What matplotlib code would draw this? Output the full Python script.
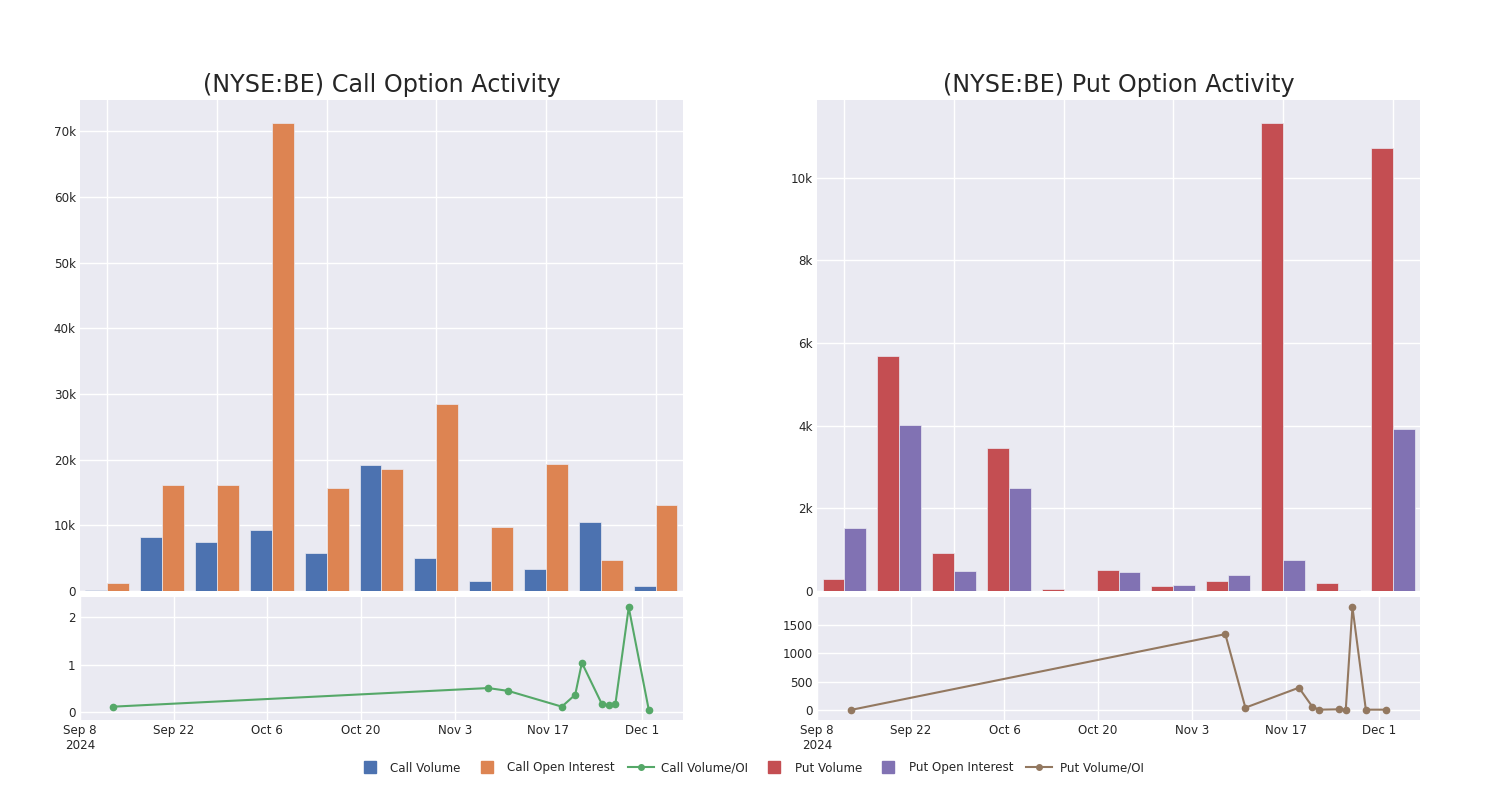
import pandas as pd
import matplotlib.pyplot as plt
from matplotlib.lines import Line2D
from matplotlib.ticker import FuncFormatter

plt.rcParams['font.family'] = 'DejaVu Sans'
plt.rcParams['font.size'] = 8.6
plt.rcParams['text.color'] = '#262626'
plt.rcParams['xtick.color'] = '#262626'
plt.rcParams['ytick.color'] = '#262626'

BG = '#EAEAF2'
BLUE, ORANGE, GREEN = '#4C72B0', '#DD8452', '#55A868'
RED, PURPLE, BROWN = '#C44E52', '#8172B3', '#937860'

# bar groups (one per date, same order as the ratio series)
call_volume = [140, 8250, 7390, 9220, 5860, 19200, 4990, 1530, 3360, 10490, 710]
call_oi = [1170, 16150, 16200, 71200, 15690, 18540, 28480, 9780, 19410, 4740, 13090]
put_volume = [283, 5690, 922, 3450, 40, 500, 121, 251, 11310, 194, 10710]
put_oi = [1513, 4010, 490, 2480, 0, 460, 146, 388, 752, 24, 3910]

dates = pd.to_datetime(['2024-09-13', '2024-11-08', '2024-11-11', '2024-11-19',
                        '2024-11-21', '2024-11-22', '2024-11-25', '2024-11-26',
                        '2024-11-27', '2024-11-29', '2024-12-02'])
call_ratio = [0.12, 0.51, 0.45, 0.12, 0.37, 1.04, 0.17, 0.15, 0.17, 2.20, 0.05]
put_ratio = [0, 1336, 41, 393, 59, 6, 12, 6, 1810, 6, 6]

tick_dates = pd.date_range('2024-09-08', periods=7, freq='14D')
tick_labels = ['Sep 8\n2024', 'Sep 22', 'Oct 6', 'Oct 20', 'Nov 3', 'Nov 17', 'Dec 1']


def kfmt(v, pos):
    return '0' if v == 0 else f'{v/1000:g}k'


def style(ax):
    ax.set_facecolor(BG)
    for s in ax.spines.values():
        s.set_visible(False)
    ax.tick_params(length=0, pad=3)
    ax.grid(color='white', linewidth=1)
    ax.set_axisbelow(True)


def panel(left, title, vol, oi, ratio, c1, c2, c3, ylim_line, yticks_line, kticks):
    ax = fig.add_axes([left, 0.26125, 0.402, 0.61375])
    style(ax)
    x = list(range(len(vol)))
    ax.bar([i - 0.2 for i in x], vol, width=0.4, color=c1, edgecolor=BG, linewidth=0.5)
    ax.bar([i + 0.2 for i in x], oi, width=0.4, color=c2, edgecolor=BG, linewidth=0.5)
    ax.set_xlim(-0.5, 10.5)
    ax.set_xticks(range(0, 11, 2))
    ax.set_xticklabels([])
    ax.set_ylim(0, max(max(vol), max(oi)) * 1.05)
    ax.set_yticks(kticks)
    ax.yaxis.set_major_formatter(FuncFormatter(kfmt))
    ax.set_title(title, fontsize=17.2, pad=6)

    ax2 = fig.add_axes([left, 0.1, 0.402, 0.15375])
    style(ax2)
    ax2.plot(dates, ratio, color=c3, linewidth=1.5, marker='o', markersize=4.5)
    ax2.set_xlim(pd.Timestamp('2024-09-08'), pd.Timestamp('2024-09-08') + pd.Timedelta(days=90.1))
    ax2.set_xticks(tick_dates)
    ax2.set_xticklabels(tick_labels)
    ax2.set_ylim(*ylim_line)
    ax2.set_yticks(yticks_line)


fig = plt.figure(figsize=(15, 8), dpi=100)
panel(0.0533, '(NYSE:BE) Call Option Activity', call_volume, call_oi, call_ratio,
      BLUE, ORANGE, GREEN, (-0.16, 2.42), [0, 1, 2], range(0, 70001, 10000))
panel(0.5447, '(NYSE:BE) Put Option Activity', put_volume, put_oi, put_ratio,
      RED, PURPLE, BROWN, (-176, 1990), [0, 500, 1000, 1500], range(0, 10001, 2000))

handles = [
    Line2D([], [], color=BLUE, marker='s', linestyle='none', markersize=8),
    Line2D([], [], color=ORANGE, marker='s', linestyle='none', markersize=8),
    Line2D([], [], color=GREEN, marker='o', linewidth=1.5, markersize=4),
    Line2D([], [], color=RED, marker='s', linestyle='none', markersize=8),
    Line2D([], [], color=PURPLE, marker='s', linestyle='none', markersize=8),
    Line2D([], [], color=BROWN, marker='o', linewidth=1.5, markersize=4),
]
labels = ['Call Volume', 'Call Open Interest', 'Call Volume/OI',
          'Put Volume', 'Put Open Interest', 'Put Volume/OI']
fig.legend(handles, labels, loc='center', bbox_to_anchor=(0.5, 0.04), ncol=6,
           frameon=False, fontsize=8.6, handlelength=2.2, handletextpad=0.6, columnspacing=1.1)

fig.savefig('out.png', dpi=100)
